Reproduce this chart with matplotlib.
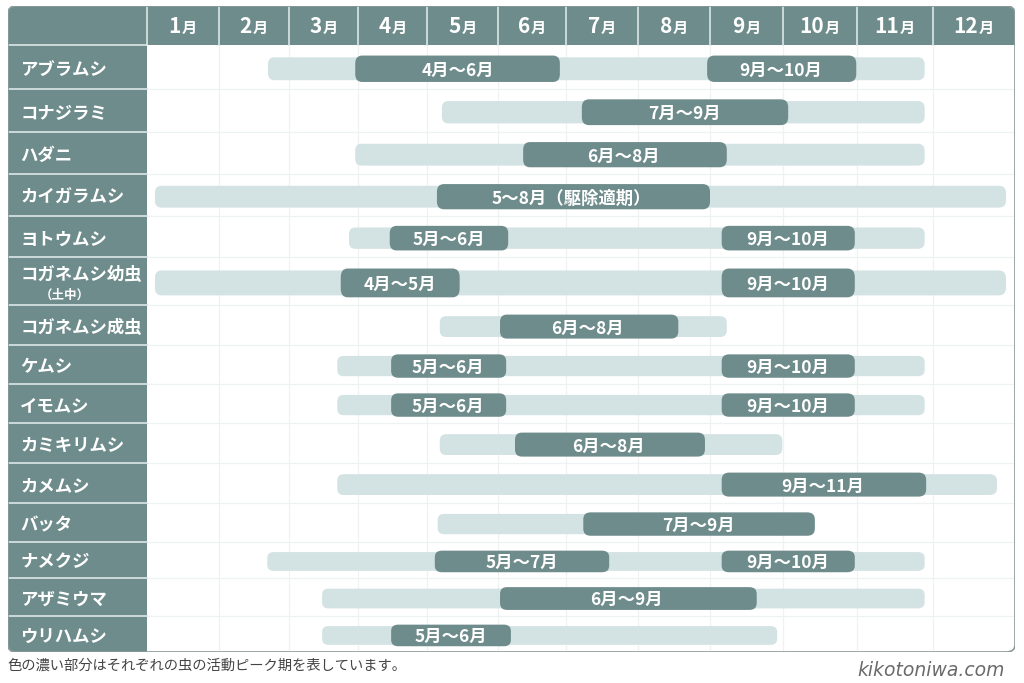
import numpy as np
import matplotlib
matplotlib.use('Agg')
import matplotlib.pyplot as plt
from matplotlib.patches import FancyBboxPatch, Rectangle

plt.rcParams['font.family'] = ['Noto Sans CJK JP', 'DejaVu Sans']

months = ['1', '2', '3', '4', '5', '6', '7', '8', '9', '10', '11', '12']
pests = ['アブラムシ', 'コナジラミ', 'ハダニ', 'カイガラムシ', 'ヨトウムシ', 'コガネムシ幼虫',
         'コガネムシ成虫', 'ケムシ', 'イモムシ', 'カミキリムシ', 'カメムシ', 'バッタ',
         'ナメクジ', 'アザミウマ', 'ウリハムシ']
pest_notes = ['', '', '', '', '', '（土中）', '', '', '', '', '', '', '', '', '']

# active period, in months from the start of January
active_start = [1.70, 4.21, 2.96, 0.11, 2.87, 0.11, 4.18, 2.70, 2.70, 4.18, 2.70, 4.15, 1.69, 2.48, 2.48]
active_end = [10.89, 10.89, 10.89, 11.89, 10.89, 11.89, 8.23, 10.89, 10.89, 8.99, 11.78, 9.43, 10.89, 10.89, 8.92]

# peak periods (start, end, label)
peaks = [
    [(2.96, 5.91, '4月〜6月'), (7.96, 9.99, '9月〜10月')],
    [(6.22, 9.07, '7月〜9月')],
    [(5.37, 8.23, '6月〜8月')],
    [(4.14, 8.00, '5〜8月（駆除適期）')],
    [(3.46, 5.15, '5月〜6月'), (8.16, 9.97, '9月〜10月')],
    [(2.75, 4.46, '4月〜5月'), (8.16, 9.97, '9月〜10月')],
    [(5.03, 7.56, '6月〜8月')],
    [(3.48, 5.12, '5月〜6月'), (8.16, 9.97, '9月〜10月')],
    [(3.48, 5.12, '5月〜6月'), (8.16, 9.97, '9月〜10月')],
    [(5.25, 7.93, '6月〜8月')],
    [(8.16, 10.91, '9月〜11月')],
    [(6.24, 9.43, '7月〜9月')],
    [(4.11, 6.60, '5月〜7月'), (8.16, 9.97, '9月〜10月')],
    [(5.03, 8.64, '6月〜9月')],
    [(3.48, 5.19, '5月〜6月')],
]

note_text = '色の濃い部分はそれぞれの虫の活動ピーク期を表しています。'
site_text = 'kikotoniwa.com'

dark = '#6f8c8c'
light = '#d3e2e2'
grid_c = '#eef2f2'
sep_c = '#dde7e7'

n = len(pests)
label_w = 1.92
aspect = 1.79  # y units per x unit for equal pixel size

# the table's columns and rows are not quite even, so map them piecewise
x_edges = np.array([-label_w] + list(range(13)), dtype=float)
x_px = np.array([8, 147, 219, 289, 358, 427, 498, 566, 638, 710, 783, 857, 933, 1015], dtype=float)
y_edges = np.arange(n + 2, dtype=float)
y_px = -np.array([6, 45, 89, 132, 174, 216, 257, 305, 345, 384, 423, 463, 503, 542, 578, 616, 652],
                 dtype=float)[::-1]

fig = plt.figure(figsize=(10.24, 6.83), dpi=100)
ax = fig.add_axes([8 / 1024, 31 / 683, 1007 / 1024, 646 / 683])
ax.set_xscale('function', functions=(lambda v: np.interp(v, x_edges, x_px),
                                     lambda v: np.interp(v, x_px, x_edges)))
ax.set_yscale('function', functions=(lambda v: np.interp(v, y_edges, y_px),
                                     lambda v: np.interp(v, y_px, y_edges)))
ax.set_xlim(-label_w, 12)
ax.set_ylim(0, n + 1)
ax.axis('off')

outer = FancyBboxPatch((-label_w, 0), label_w + 12, n + 1,
                       boxstyle='round,pad=0,rounding_size=0.11',
                       mutation_aspect=aspect, fc='white', ec='none', zorder=0)
ax.add_patch(outer)

# grid in the body
for i in range(1, 12):
    ax.plot([i, i], [0, n], color=grid_c, lw=0.9, zorder=1)
for j in range(1, n):
    ax.plot([0, 12], [j, j], color=grid_c, lw=0.9, zorder=1)

# header and label column
hdr = Rectangle((-label_w, n), label_w + 12, 1, fc=dark, ec='none', zorder=2)
col = Rectangle((-label_w, 0), label_w, n, fc=dark, ec='none', zorder=2)
for p in (hdr, col):
    ax.add_patch(p)
    p.set_clip_path(outer)

for i in range(12):
    ax.plot([i, i], [n, n + 1], color=sep_c, lw=1.2, zorder=3)
for j in range(1, n + 1):
    ax.plot([-label_w, 0], [j, j], color=sep_c, lw=1.2, zorder=3)

for i, m in enumerate(months):
    w = len(m) * 8.3 + 11
    off = -w / 2 + len(m) * 8.3
    ax.annotate(m, (i + 0.5, n + 0.3), xytext=(off, 0), textcoords='offset points',
                ha='right', va='baseline', color='white', fontsize=15, fontweight='bold', zorder=4)
    ax.annotate('月', (i + 0.5, n + 0.3), xytext=(off + 0.5, 0), textcoords='offset points',
                ha='left', va='baseline', color='white', fontsize=11, fontweight='bold', zorder=4)

for k, name in enumerate(pests):
    yc = n - k - 0.5
    if pest_notes[k]:
        ax.text(-label_w + 0.17, yc + 0.12, name, ha='left', va='center', color='white',
                fontsize=12.5, fontweight='bold', zorder=4)
        ax.text(-label_w + 0.78, yc - 0.3, pest_notes[k], ha='center', va='center', color='white',
                fontsize=9, fontweight='bold', zorder=4)
    else:
        ax.text(-label_w + 0.17, yc - 0.07, name, ha='left', va='center', color='white',
                fontsize=12.5, fontweight='bold', zorder=4)

    yb = yc - 0.04
    h = 0.52
    ax.add_patch(FancyBboxPatch((active_start[k], yb - h / 2), active_end[k] - active_start[k], h,
                                boxstyle='round,pad=0,rounding_size=0.09',
                                mutation_aspect=aspect, fc=light, ec='none', zorder=3))
    for s, e, lab in peaks[k]:
        h2 = 0.6
        ax.add_patch(FancyBboxPatch((s, yb - h2 / 2), e - s, h2,
                                    boxstyle='round,pad=0,rounding_size=0.1',
                                    mutation_aspect=aspect, fc=dark, ec='none', zorder=4))
        ax.text((s + e) / 2, yb - 0.05, lab, ha='center', va='center', color='white',
                fontsize=12.5, fontweight='bold', zorder=5)

border = FancyBboxPatch((-label_w, 0), label_w + 12, n + 1,
                        boxstyle='round,pad=0,rounding_size=0.11',
                        mutation_aspect=aspect, fc='none', ec='#8a9b9b', lw=1.2, zorder=6)
ax.add_patch(border)

fig.text(8 / 1024, 1 - 666 / 683, note_text, ha='left', va='center', fontsize=10.3, color='#444444')
fig.text(1005 / 1024, 1 - 670 / 683, site_text, ha='right', va='center', fontsize=13.5,
         style='italic', color='#6a6a6a', family='DejaVu Sans')

fig.savefig('out.png', dpi=100, facecolor='white')
